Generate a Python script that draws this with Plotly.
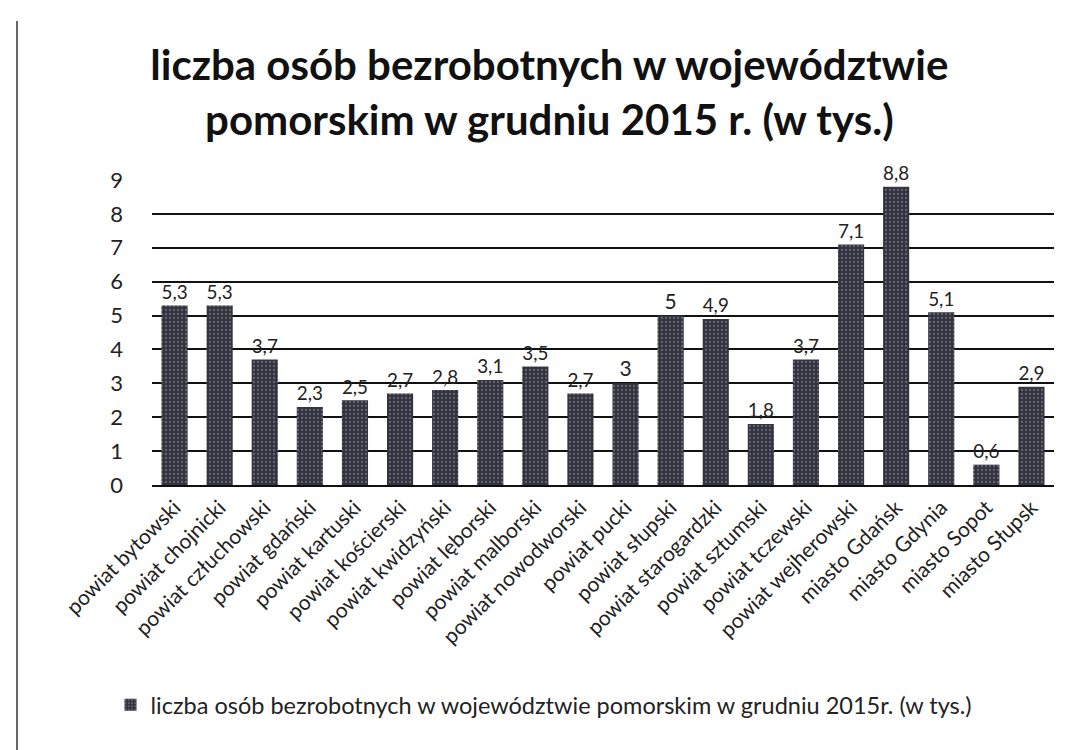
import plotly.graph_objects as go

categories = [
    "powiat bytowski", "powiat chojnicki", "powiat człuchowski", "powiat gdański",
    "powiat kartuski", "powiat kościerski", "powiat kwidzyński", "powiat lęborski",
    "powiat malborski", "powiat nowodworski", "powiat pucki", "powiat słupski",
    "powiat starogardzki", "powiat sztumski", "powiat tczewski", "powiat wejherowski",
    "miasto Gdańsk", "miasto Gdynia", "miasto Sopot", "miasto Słupsk",
]
values = [5.3, 5.3, 3.7, 2.3, 2.5, 2.7, 2.8, 3.1, 3.5, 2.7, 3.0, 5.0, 4.9, 1.8, 3.7, 7.1, 8.8, 5.1, 0.6, 2.9]
series_name = "liczba osób bezrobotnych w województwie pomorskim w grudniu 2015r. (w tys.)"
title_text = "liczba osób bezrobotnych w województwie<br>pomorskim w grudniu 2015 r. (w tys.)"
y_ticks = list(range(0, 10))

labels = [(f"{v:g}").replace(".", ",") for v in values]

FONT = "Lato, 'Open Sans', sans-serif"

fig = go.Figure()
fig.add_trace(go.Bar(
    x=categories, y=values, name=series_name,
    text=labels, textposition="outside", cliponaxis=False,
    textfont=dict(size=21, color="#222222", family=FONT),
    marker=dict(
        color="#33333f",
        line=dict(width=0),
        pattern=dict(shape=".", fgcolor="#9a9aa6", bgcolor="#33333f", size=4, solidity=0.25),
    ),
    showlegend=True,
))

fig.update_layout(
    width=1072, height=750,
    paper_bgcolor="white", plot_bgcolor="white",
    margin=dict(l=144, r=26, t=172, b=273, autoexpand=False),
    bargap=0.42,
    font=dict(family=FONT, color="#222222"),
    title=dict(
        text=title_text, x=0.505, xref="container", xanchor="center",
        y=1 - 72 / 750, yref="container", yanchor="top",
        font=dict(size=42, family=FONT, color="#111111", weight="bold"),
        automargin=False,
    ),
    legend=dict(
        orientation="h", x=0.50, xanchor="center", xref="container",
        y=1 - 675 / 750, yref="container", yanchor="top",
        font=dict(size=23.5, family=FONT, color="#222222"),
        itemsizing="constant",
    ),
    xaxis=dict(
        tickangle=-45, tickfont=dict(size=21, family=FONT, color="#222222"),
        showgrid=False, showline=True, linecolor="#111111", linewidth=2,
        ticks="", automargin=False,
    ),
    yaxis=dict(
        range=[0, 9], tickvals=y_ticks,
        tickfont=dict(size=22, family=FONT, color="#222222"),
        showgrid=True, gridcolor="#111111", gridwidth=2,
        zeroline=False, showline=False, ticks="", ticklabelstandoff=28,
        automargin=False,
    ),
    shapes=[dict(type="line", xref="paper", yref="paper", x0=-135/902, x1=-135/902,
                 y0=-273/305, y1=(750 - 13 - 273) / 305, line=dict(color="#333333", width=1.5))],
)

fig.write_html("out.html")
